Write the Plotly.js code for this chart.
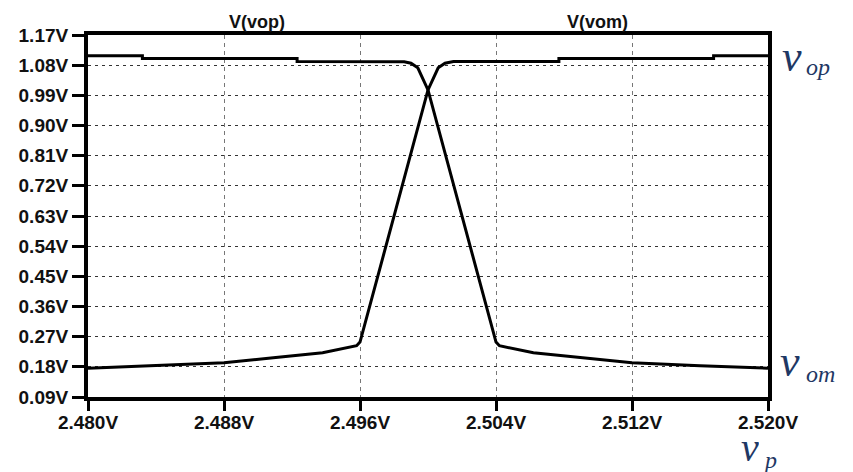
<!DOCTYPE html>
<html><head><meta charset="utf-8">
<script src="https://cdn.plot.ly/plotly-3.0.1.min.js"></script>
<style>html,body{margin:0;padding:0;background:#fff}#chart{width:853px;height:472px}</style>
</head><body><div id="chart"></div>
<script>
// V(vop): rising with vp
const vopX = [2.480, 2.484, 2.488, 2.4909, 2.4938, 2.4958, 2.4960, 2.4981, 2.4990, 2.5000, 2.5006, 2.5010, 2.5015, 2.5077, 2.5077, 2.5168, 2.5168, 2.520];
const vopY = [0.176, 0.183, 0.192, 0.207, 0.222, 0.243, 0.254, 0.648, 0.820, 1.006, 1.072, 1.086, 1.091, 1.091, 1.100, 1.100, 1.108, 1.108];
// V(vom): falling with vp
const vomX = [2.480, 2.4832, 2.4832, 2.4923, 2.4923, 2.4986, 2.4990, 2.4994, 2.5000, 2.5010, 2.5019, 2.5040, 2.5042, 2.5062, 2.5091, 2.512, 2.516, 2.520];
const vomY = [1.108, 1.108, 1.100, 1.100, 1.091, 1.090, 1.086, 1.072, 1.006, 0.820, 0.648, 0.254, 0.243, 0.222, 0.207, 0.192, 0.183, 0.176];

const xTickVals = [2.480, 2.488, 2.496, 2.504, 2.512, 2.520];
const xTickText = ['2.480V', '2.488V', '2.496V', '2.504V', '2.512V', '2.520V'];
const yTickVals = [0.09, 0.18, 0.27, 0.36, 0.45, 0.54, 0.63, 0.72, 0.81, 0.90, 0.99, 1.08, 1.17];
const yTickText = ['0.09V', '0.18V', '0.27V', '0.36V', '0.45V', '0.54V', '0.63V', '0.72V', '0.81V', '0.90V', '0.99V', '1.08V', '1.17V'];
const traceNames = ['V(vop)', 'V(vom)'];

const W = 853, H = 472;
const M = {l: 88, r: 85, t: 35, b: 75};
const PW = W - M.l - M.r, PH = H - M.t - M.b;
const px = x => (x - M.l) / PW;
const py = y => (H - M.b - y) / PH;

const tickFont = {family: 'Liberation Sans, Arial, sans-serif', size: 19, color: '#111', weight: 700};
const mathFont = (s) => ({family: 'Liberation Serif, DejaVu Serif, serif', size: s, color: '#1f3864', style: 'italic'});
const labelFont = {family: 'Liberation Sans, Arial, sans-serif', size: 18, color: '#111', weight: 700};

const traces = [
  {x: vopX, y: vopY, name: traceNames[0], mode: 'lines', line: {color: '#000', width: 3}},
  {x: vomX, y: vomY, name: traceNames[1], mode: 'lines', line: {color: '#000', width: 3}}
];

const ann = [
  {text: traceNames[0], x: px(257), y: py(22), font: labelFont},
  {text: traceNames[1], x: px(597), y: py(22), font: labelFont},
  {text: 'v', x: px(792), y: py(56), font: mathFont(44)},
  {text: 'op', x: px(818), y: py(67), font: mathFont(24)},
  {text: 'v', x: px(790), y: py(361), font: mathFont(44)},
  {text: 'om', x: px(820), y: py(374), font: mathFont(24)},
  {text: 'v', x: px(750), y: py(434), font: mathFont(40), yanchor: 'top', height: 34, valign: 'bottom'},
  {text: 'p', x: px(770), y: py(460), font: mathFont(24)}
].map(a => Object.assign({xref: 'paper', yref: 'paper', showarrow: false, xanchor: 'center', yanchor: 'middle'}, a));

const axisCommon = {
  showline: true, linecolor: '#000', linewidth: 4, mirror: true,
  ticks: 'outside', tickcolor: '#000', tickwidth: 3,
  zeroline: false, tickfont: tickFont, fixedrange: true
};

const layout = {
  width: W, height: H,
  margin: M,
  paper_bgcolor: '#fff', plot_bgcolor: '#fff',
  showlegend: false,
  xaxis: Object.assign({}, axisCommon, {
    range: [2.480, 2.520], tickmode: 'array', tickvals: xTickVals, ticktext: xTickText,
    ticklen: 10, ticklabelstandoff: -5, showgrid: true, gridcolor: '#777', gridwidth: 1, griddash: '4px,4px'
  }),
  yaxis: Object.assign({}, axisCommon, {
    range: [0.09, 1.17], tickmode: 'array', tickvals: yTickVals, ticktext: yTickText,
    ticklen: 12, showgrid: true, gridcolor: '#333', gridwidth: 1, griddash: '3px,4px'
  }),
  annotations: ann
};

Plotly.newPlot('chart', traces, layout, {displayModeBar: false, staticPlot: true});
</script>
</body></html>
